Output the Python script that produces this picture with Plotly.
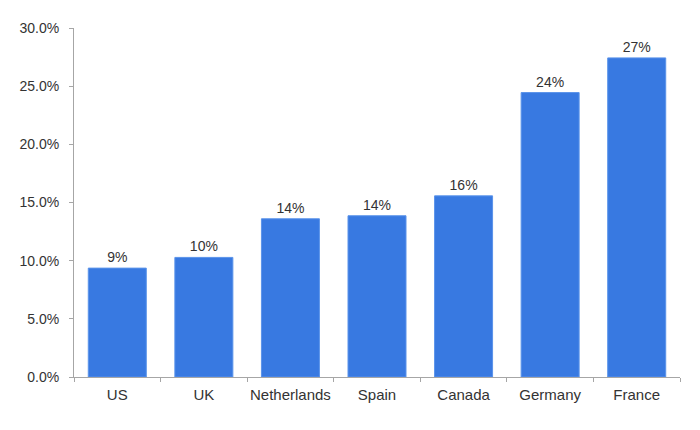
import plotly.graph_objs as go

countries = ["US", "UK", "Netherlands", "Spain", "Canada", "Germany", "France"]
shares = [9.36, 10.28, 13.6, 13.86, 15.57, 24.45, 27.43]
labels = ["9%", "10%", "14%", "14%", "16%", "24%", "27%"]
y_ticks = [0, 5, 10, 15, 20, 25, 30]
y_tick_text = ["0.0%", "5.0%", "10.0%", "15.0%", "20.0%", "25.0%", "30.0%"]

bars = go.Bar(
  x=countries,
  y=shares,
  text=labels,
  textposition="outside",
  cliponaxis=False,
  textfont=dict(family="Liberation Sans, Arial", size=14, color="#333333"),
  marker=dict(color="#3879E1", line=dict(color="#5A93EA", width=1)),
)

# the page body adds 8px, so margins are trimmed to line up with the reference
layout = go.Layout(
  width=700, height=430,
  margin=dict(l=66, r=28, t=20, b=61),
  paper_bgcolor="white", plot_bgcolor="white",
  bargap=0.33,
  showlegend=False,
  font=dict(family="Liberation Sans, Arial", size=14, color="#333333"),
  xaxis=dict(
    showline=True, linecolor="#A6A6A6", linewidth=1,
    ticks="outside", tickson="boundaries", ticklen=4, tickcolor="#A6A6A6",
    showgrid=False, tickfont=dict(size=15), ticklabelstandoff=4,
    tickangle=0, automargin=False,
  ),
  yaxis=dict(
    range=[0, 30], tickvals=y_ticks, ticktext=y_tick_text,
    showline=True, linecolor="#A6A6A6", linewidth=1,
    ticks="outside", ticklen=4, tickcolor="#A6A6A6",
    showgrid=False, zeroline=False, tickfont=dict(size=14),
    ticklabelstandoff=7,
  ),
)

fig = go.Figure(data=[bars], layout=layout)
fig.write_html("out.html")
